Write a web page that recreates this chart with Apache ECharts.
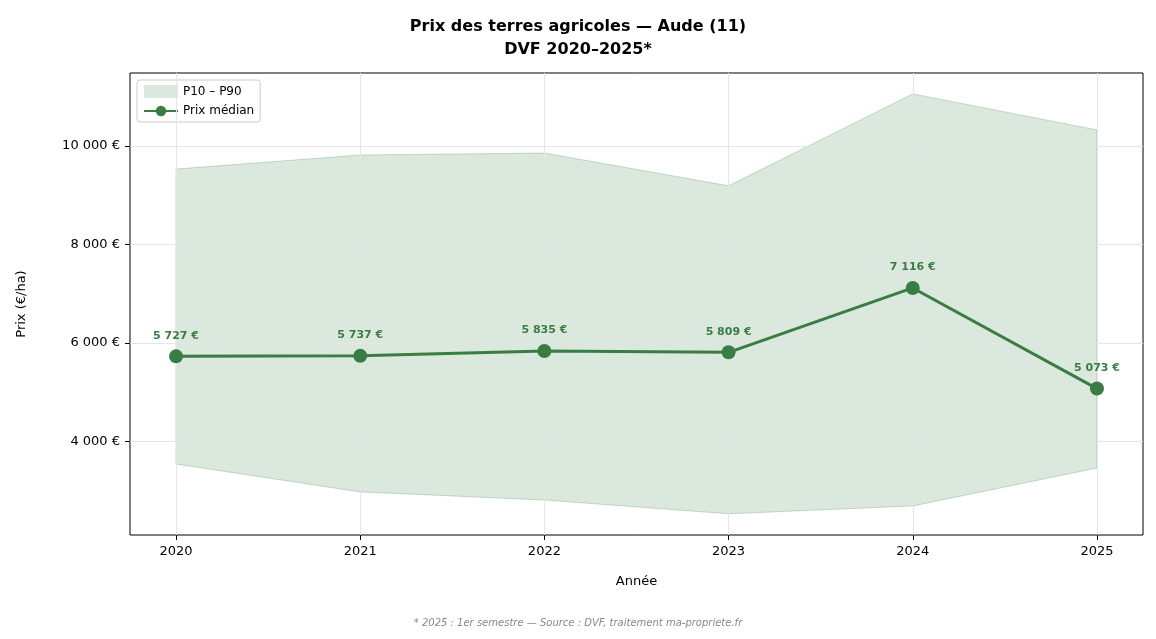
<!DOCTYPE html>
<html><head><meta charset="utf-8">
<script src="https://cdn.jsdelivr.net/npm/echarts@6/dist/echarts.min.js"></script>
<style>html,body{margin:0;padding:0;background:#fff}#c{width:1156px;height:639px}</style>
</head><body><div id="c"></div>
<script>
const years = [2020, 2021, 2022, 2023, 2024, 2025];
const median = [5727, 5737, 5835, 5809, 7116, 5073];
const p10 = [3540, 2975, 2810, 2530, 2690, 3460];
const p90 = [9530, 9815, 9855, 9190, 11055, 10325];
const yTicks = [4000, 6000, 8000, 10000];

const fmt = v => String(v).replace(/\B(?=(\d{3})+(?!\d))/g, ' ') + ' €';
const green = '#3a7d44';
const F = 'DejaVu Sans';

const chart = echarts.init(document.getElementById('c'));
chart.setOption({
  animation: false,
  textStyle: { fontFamily: F },
  title: [
    { text: 'Prix des terres agricoles — Aude (11)\nDVF 2020–2025*', left: 'center', top: 10,
      textStyle: { fontSize: 16, fontWeight: 'bold', color: '#000', lineHeight: 23, fontFamily: F } },
    { text: '* 2025 : 1er semestre — Source : DVF, traitement ma-propriete.fr', left: 'center', top: 613,
      textStyle: { fontSize: 10, fontStyle: 'italic', fontWeight: 'normal', color: '#888', fontFamily: F } }
  ],
  legend: {
    left: 137, top: 80, orient: 'vertical', itemGap: 7, itemWidth: 34, itemHeight: 13,
    borderColor: '#ccc', borderWidth: 1, borderRadius: 3, padding: [5, 6],
    textStyle: { fontSize: 12, color: '#000' },
    data: [
      { name: 'P10 – P90', icon: 'rect', itemStyle: { color: 'rgba(58,125,68,0.18)', borderColor: 'rgba(58,125,68,0.3)' } },
      { name: 'Prix médian' }
    ]
  },
  grid: { left: 130, right: 13, top: 73, bottom: 104, show: true, borderColor: '#000', borderWidth: 1 },
  xAxis: {
    type: 'value', min: 2019.75, max: 2025.25, interval: 0.25,
    name: 'Année', nameLocation: 'middle', nameGap: 40, nameTextStyle: { fontSize: 13, color: '#000' },
    axisLine: { show: false },
    axisTick: { customValues: years, length: 5, lineStyle: { color: '#000' } },
    axisLabel: { customValues: years, fontSize: 13, color: '#000', margin: 10, formatter: v => String(v) },
    splitLine: { show: false }
  },
  yAxis: {
    type: 'value', min: 2100, max: 11480,
    name: 'Prix (€/ha)', nameLocation: 'middle', nameGap: 102, nameTextStyle: { fontSize: 13, color: '#000' },
    axisLine: { show: false },
    axisTick: { customValues: yTicks, length: 5, lineStyle: { color: '#000' } },
    axisLabel: { customValues: yTicks, fontSize: 13, color: '#000', margin: 10, formatter: v => fmt(v) },
    splitLine: { show: false }
  },
  series: [
    {
      name: 'grid', type: 'line', data: [], silent: true,
      markLine: {
        symbol: 'none', silent: true, label: { show: false },
        lineStyle: { color: '#e6e6e6', type: 'solid', width: 1 },
        data: yTicks.map(v => ({ yAxis: v })).concat(years.map(v => ({ xAxis: v })))
      }
    },
    {
      name: 'P10 – P90', type: 'custom', z: 2,
      data: years.map((y, i) => [y, p10[i], p90[i]]),
      renderItem: (params, api) => {
        if (params.dataIndex !== 0) return null;
        const top = years.map((y, i) => api.coord([y, p90[i]]));
        const bot = years.map((y, i) => api.coord([y, p10[i]])).reverse();
        return { type: 'polygon', shape: { points: top.concat(bot) },
          style: { fill: 'rgba(58,125,68,0.18)', stroke: 'rgba(58,125,68,0.25)', lineWidth: 1 } };
      },
      itemStyle: { color: 'rgba(58,125,68,0.18)' }
    },
    {
      name: 'Prix médian', type: 'line', z: 5,
      data: years.map((y, i) => [y, median[i]]),
      lineStyle: { color: green, width: 3 },
      itemStyle: { color: green },
      symbol: 'circle', symbolSize: 14,
      label: { show: true, position: 'top', distance: 8, color: green, fontSize: 11, fontWeight: 'bold',
        formatter: p => fmt(p.value[1]) }
    }
  ]
});
</script></body></html>
